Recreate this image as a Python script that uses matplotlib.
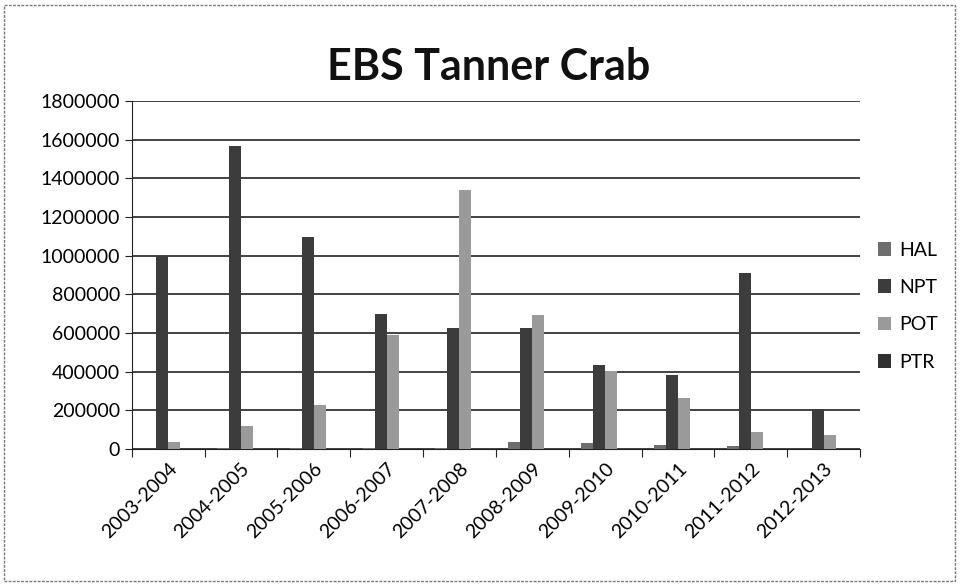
import matplotlib.pyplot as plt
import numpy as np
from matplotlib.patches import Rectangle

seasons = ["2003-2004", "2004-2005", "2005-2006", "2006-2007", "2007-2008",
           "2008-2009", "2009-2010", "2010-2011", "2011-2012", "2012-2013"]
hal = [0, 5000, 4000, 5000, 6000, 36000, 33000, 20000, 15000, 0]
npt = [1000000, 1565000, 1095000, 700000, 628000, 628000, 432000, 382000, 912000, 205000]
pot = [35000, 118000, 230000, 592000, 1340000, 695000, 405000, 262000, 88000, 72000]
ptr = [0, 0, 0, 0, 0, 0, 0, 0, 0, 0]

series = [("HAL", hal, "#6e6e6e"), ("NPT", npt, "#3c3c3c"),
          ("POT", pot, "#9a9a9a"), ("PTR", ptr, "#303030")]

font = ["Lato", "DejaVu Sans"]
plt.rcParams['font.family'] = font

fig = plt.figure(figsize=(9.61, 5.85), dpi=100)
ax = fig.add_axes([0.137, 0.2325, 0.758, 0.595])

x = np.arange(len(seasons))
w = 0.165
for i, (name, vals, col) in enumerate(series):
    ax.bar(x + (i - 1.5) * w, vals, width=w, color=col, label=name, zorder=3)

ax.set_xlim(-0.5, len(seasons) - 0.5)
ax.set_ylim(0, 1800000)
ax.set_yticks(range(0, 1800001, 200000))
ax.set_yticklabels([str(v) for v in range(0, 1800001, 200000)], fontsize=14)
ax.yaxis.grid(True, color="#222222", linewidth=1.2, zorder=0)
ax.set_xticks(np.arange(-0.5, len(seasons) + 0.5, 1), minor=False)
ax.set_xticklabels([])
ax.set_xticks(x, minor=True)
ax.set_xticklabels(seasons, minor=True, rotation=45, ha="right",
                   rotation_mode="anchor", fontsize=14)
ax.tick_params(axis="x", which="minor", length=0, pad=8)
ax.tick_params(axis="x", which="major", length=6, direction="out", color="#222222")
ax.tick_params(axis="y", length=5, direction="out", color="#222222")
for s in ["top", "right"]:
    ax.spines[s].set_visible(False)
ax.spines["left"].set_color("#222222")
ax.spines["bottom"].set_color("#222222")

fig.text(0.508, 0.885, "EBS Tanner Crab", ha="center", va="center",
         fontsize=31, fontweight="bold", color="#111111")

ax.legend(loc="center left", bbox_to_anchor=(1.0, 0.41), frameon=False,
          fontsize=14, handlelength=0.7, handleheight=0.7, labelspacing=1.05,
          handletextpad=0.4)

fig.patches.append(Rectangle((0.004, 0.006), 0.99, 0.985, transform=fig.transFigure,
                             fill=False, edgecolor="#777777", linewidth=1,
                             linestyle=(0, (2, 1))))

fig.savefig("out.png", dpi=100)
